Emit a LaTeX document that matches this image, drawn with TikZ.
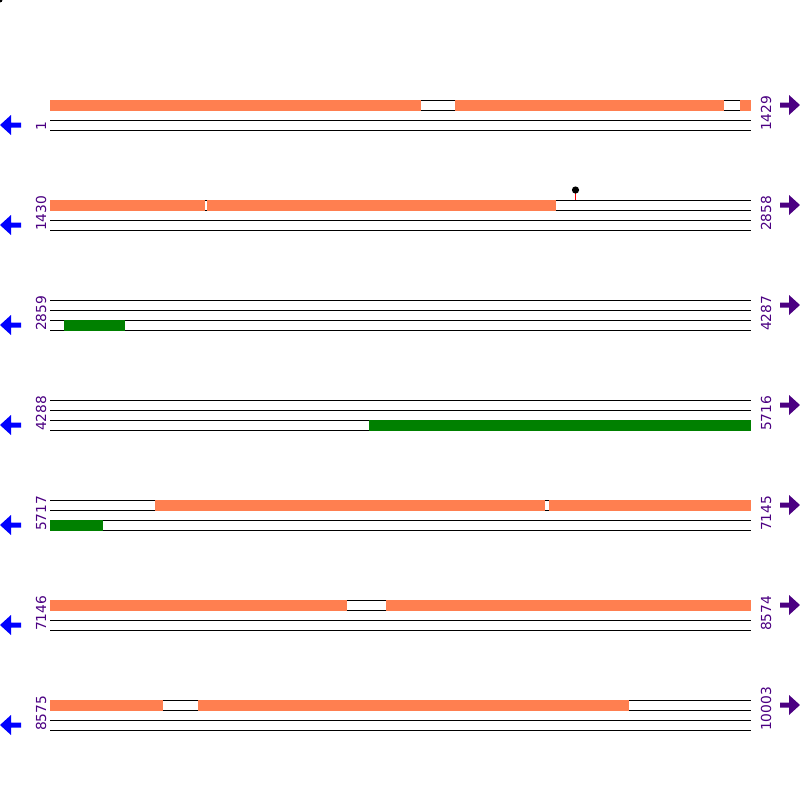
\documentclass[tikz,border=0pt]{standalone}
\usepackage{fontspec}
\setmainfont{DejaVu Sans}
\definecolor{coral}{HTML}{FF7F50}
\definecolor{dgreen}{HTML}{008000}
\definecolor{indig}{HTML}{4B0082}
\begin{document}
\begin{tikzpicture}[x=1pt,y=-1pt,
  trk/.style={line width=1pt,black},
  orb/.style={fill=coral},
  grb/.style={fill=dgreen},
  numl/.style={rotate=90,anchor=base west,inner sep=0pt,text=indig,font=\fontsize{13.8}{14}\selectfont},
  larr/.style={fill=blue},
  rarr/.style={fill=indig}]
\useasboundingbox (0,0) rectangle (800,800);
\fill[black] (0,0) circle (2.5);
\foreach \i/\l/\r in {0/1/1429,1/1430/2858,2/2859/4287,3/4288/5716,4/5717/7145,5/7146/8574,6/8575/10003}{
  \pgfmathsetmacro{\b}{100+100*\i}
  \foreach \d in {0,10,20,30}{
    \draw[trk] (50,\b+\d) -- (751,\b+\d);
  }
  \node[numl] (L\i) at (46,\b+31) {\l};
  \node[numl] (R\i) at (771,\b+31) {\r};
  \fill[larr] (0,\b+25) -- (11,\b+15) -- (11,\b+22.5) -- (21,\b+22.5) -- (21,\b+27.5) -- (11,\b+27.5) -- (11,\b+35) -- cycle;
  \fill[rarr] (800,\b+5) -- (789,\b-5) -- (789,\b+2.5) -- (780,\b+2.5) -- (780,\b+7.5) -- (789,\b+7.5) -- (789,\b+15) -- cycle;
}
% row 1
\fill[orb] (50,99.5) rectangle (421,110.5);
\fill[orb] (455,99.5) rectangle (724,110.5);
\fill[orb] (740,99.5) rectangle (751,110.5);
% row 2
\fill[orb] (50,199.5) rectangle (205,210.5);
\fill[orb] (207,199.5) rectangle (556,210.5);
\draw[red,line width=1pt] (575.5,190) -- (575.5,200);
\fill[black] (575.5,190) circle (3.6);
% row 3
\fill[grb] (64,319.5) rectangle (125,330.5);
% row 4
\fill[grb] (369,419.5) rectangle (751,430.5);
% row 5
\fill[orb] (155,499.5) rectangle (545,510.5);
\fill[orb] (549,499.5) rectangle (751,510.5);
\fill[grb] (50,519.5) rectangle (103,530.5);
% row 6
\fill[orb] (50,599.5) rectangle (347,610.5);
\fill[orb] (386,599.5) rectangle (751,610.5);
% row 7
\fill[orb] (50,699.5) rectangle (163,710.5);
\fill[orb] (198,699.5) rectangle (629,710.5);
\end{tikzpicture}
\end{document}
